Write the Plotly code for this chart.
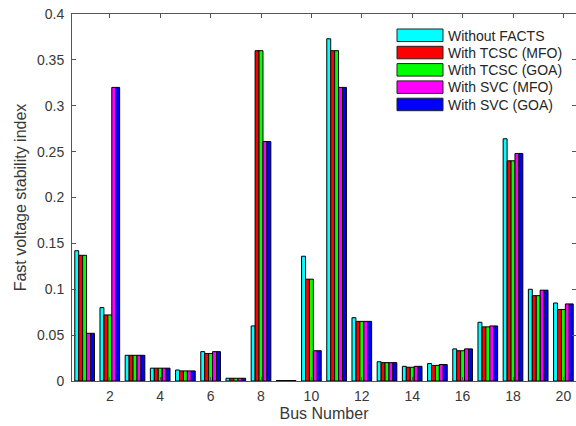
import plotly.graph_objects as go

# Bus numbers of the test system
buses = list(range(1, 21))

# Fast voltage stability index per bus for each case
without_facts = [0.142, 0.080, 0.028, 0.014, 0.012, 0.032, 0.003, 0.060, 0.0005, 0.136,
                 0.373, 0.069, 0.021, 0.016, 0.019, 0.035, 0.064, 0.264, 0.100, 0.085]
tcsc_mfo = [0.137, 0.072, 0.028, 0.014, 0.011, 0.030, 0.003, 0.360, 0.0005, 0.111,
            0.360, 0.065, 0.020, 0.015, 0.017, 0.033, 0.059, 0.240, 0.093, 0.078]
tcsc_goa = [0.137, 0.072, 0.028, 0.014, 0.011, 0.030, 0.003, 0.360, 0.0005, 0.111,
            0.360, 0.065, 0.020, 0.015, 0.017, 0.033, 0.059, 0.240, 0.093, 0.078]
svc_mfo = [0.052, 0.320, 0.028, 0.014, 0.011, 0.032, 0.003, 0.261, 0.0005, 0.033,
           0.320, 0.065, 0.020, 0.016, 0.018, 0.035, 0.060, 0.248, 0.099, 0.084]
svc_goa = [0.052, 0.320, 0.028, 0.014, 0.011, 0.032, 0.003, 0.261, 0.0005, 0.033,
           0.320, 0.065, 0.020, 0.016, 0.018, 0.035, 0.060, 0.248, 0.099, 0.084]

series_names = ["Without FACTS", "With TCSC (MFO)", "With TCSC (GOA)",
                "With SVC (MFO)", "With SVC (GOA)"]
series_values = [without_facts, tcsc_mfo, tcsc_goa, svc_mfo, svc_goa]
series_colors = ["#00FFFF", "#FF0000", "#00FF00", "#FF00FF", "#0000FF"]

x_tick_values = list(range(2, 21, 2))
y_tick_values = [0, 0.05, 0.1, 0.15, 0.2, 0.25, 0.3, 0.35, 0.4]

W, H = 576, 426
ML, MR, MT, MB = 72, 0, 14, 45
text_color = "#383838"
axis_color = "#555555"

fig = go.Figure()
for name, vals, col in zip(series_names, series_values, series_colors):
    fig.add_trace(go.Bar(
        x=buses, y=vals, name=name,
        marker=dict(color=col, line=dict(color="black", width=1)),
        showlegend=False,
    ))

# Legend box drawn with wide swatches, positioned in pixels of the page
pw, ph = W - ML - MR, H - MT - MB


def px_x(p):
    return (p - ML) / pw


def px_y(p):
    return (H - MB - p) / ph


shapes = []
annotations = []
row_top = 29
row_step = 17.3
for i, (name, col) in enumerate(zip(series_names, series_colors)):
    top = row_top + i * row_step
    shapes.append(dict(
        type="rect", xref="paper", yref="paper",
        x0=px_x(397), x1=px_x(443), y0=px_y(top + 12.5), y1=px_y(top),
        fillcolor=col, line=dict(color="#222222", width=1), layer="above",
    ))
    annotations.append(dict(
        xref="paper", yref="paper", x=px_x(446), y=px_y(top + 6.5),
        text=name, showarrow=False, xanchor="left", yanchor="middle",
        font=dict(family="Liberation Sans, Arial, sans-serif", size=14, color="#262626"),
    ))

fig.update_layout(
    width=W, height=H,
    margin=dict(l=ML, r=MR, t=MT, b=MB, pad=0),
    paper_bgcolor="white", plot_bgcolor="white",
    barmode="group", bargap=0.22, bargroupgap=0,
    font=dict(family="Liberation Sans, Arial, sans-serif", size=14, color=text_color),
    shapes=shapes, annotations=annotations,
    xaxis=dict(
        range=[0.5, 20.5], tickvals=x_tick_values,
        ticks="inside", ticklen=4, tickcolor=axis_color,
        showline=True, linecolor=axis_color, linewidth=1, mirror="ticks",
        showgrid=False, zeroline=False, ticklabelstandoff=2,
        title=dict(text="Bus Number", font=dict(size=16), standoff=5),
    ),
    yaxis=dict(
        range=[0, 0.4], tickvals=y_tick_values,
        ticktext=[f"{v:g}" for v in y_tick_values],
        ticks="inside", ticklen=4, tickcolor=axis_color,
        showline=True, linecolor=axis_color, linewidth=1, mirror="ticks",
        showgrid=False, zeroline=False, ticklabelstandoff=4,
        title=dict(text="Fast voltage stability index", font=dict(size=16), standoff=6),
    ),
)

fig.write_html("out.html")
